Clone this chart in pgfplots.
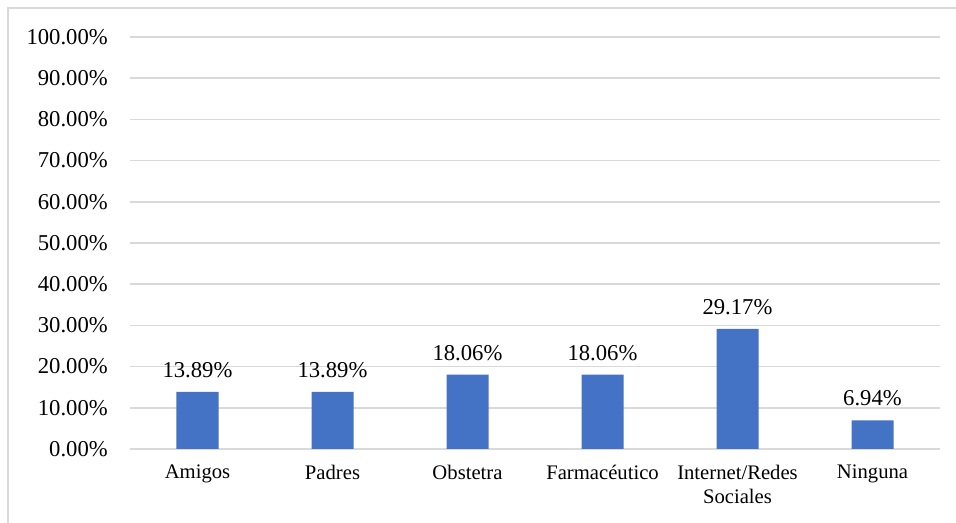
\documentclass[border=0pt]{standalone}
\usepackage{pgfplots}
\pgfplotsset{compat=1.18}
\usepackage{fontspec}
\setmainfont{Liberation Serif}
\definecolor{barblue}{HTML}{4472C4}
\definecolor{gridgray}{HTML}{D9D9D9}
\begin{document}
\fontsize{17}{20}\selectfont
\begin{tikzpicture}
\useasboundingbox (-97.5pt,-55.5pt) rectangle (619.5pt,336.75pt);
\draw[gridgray, line width=1.5pt] (-91.5pt,-56pt) -- (-91.5pt,330.75pt) -- (620pt,330.75pt);
\begin{axis}[
    at={(0pt,0pt)}, anchor=south west,
    scale only axis,
    width=607.5pt, height=309pt,
    ybar, bar width=31.5pt,
    xmin=-0.5, xmax=5.5,
    ymin=0, ymax=100,
    axis line style={draw=none},
    ytick={0,10,...,100},
    yticklabels={0.00\%,10.00\%,20.00\%,30.00\%,40.00\%,50.00\%,60.00\%,70.00\%,80.00\%,90.00\%,100.00\%},
    xtick={0,1,2,3,4,5},
    xticklabels={Amigos,Padres,Obstetra,Farmacéutico,Internet/Redes\\Sociales,Ninguna},
    major tick length=0pt,
    ymajorgrids=true,
    grid style={gridgray, line width=1.1pt},
    yticklabel style={font=\fontsize{17}{20}\selectfont, inner sep=0pt, anchor=east, xshift=-16.5pt},
    xticklabel style={font=\fontsize{15.5}{18}\selectfont, inner sep=0pt, anchor=north, yshift=-12pt, align=center},
    nodes near coords={\pgfmathprintnumber[fixed,fixed zerofill,precision=2,assume math mode=true]{\pgfplotspointmeta}\%},
    nodes near coords style={font=\fontsize{17}{20}\selectfont, inner sep=0pt, anchor=south, yshift=10.5pt},
    clip=false,
]
\addplot[fill=barblue, draw=none] coordinates {
    (0,13.89) (1,13.89) (2,18.06) (3,18.06) (4,29.17) (5,6.94)
};
\end{axis}
\end{tikzpicture}
\end{document}
